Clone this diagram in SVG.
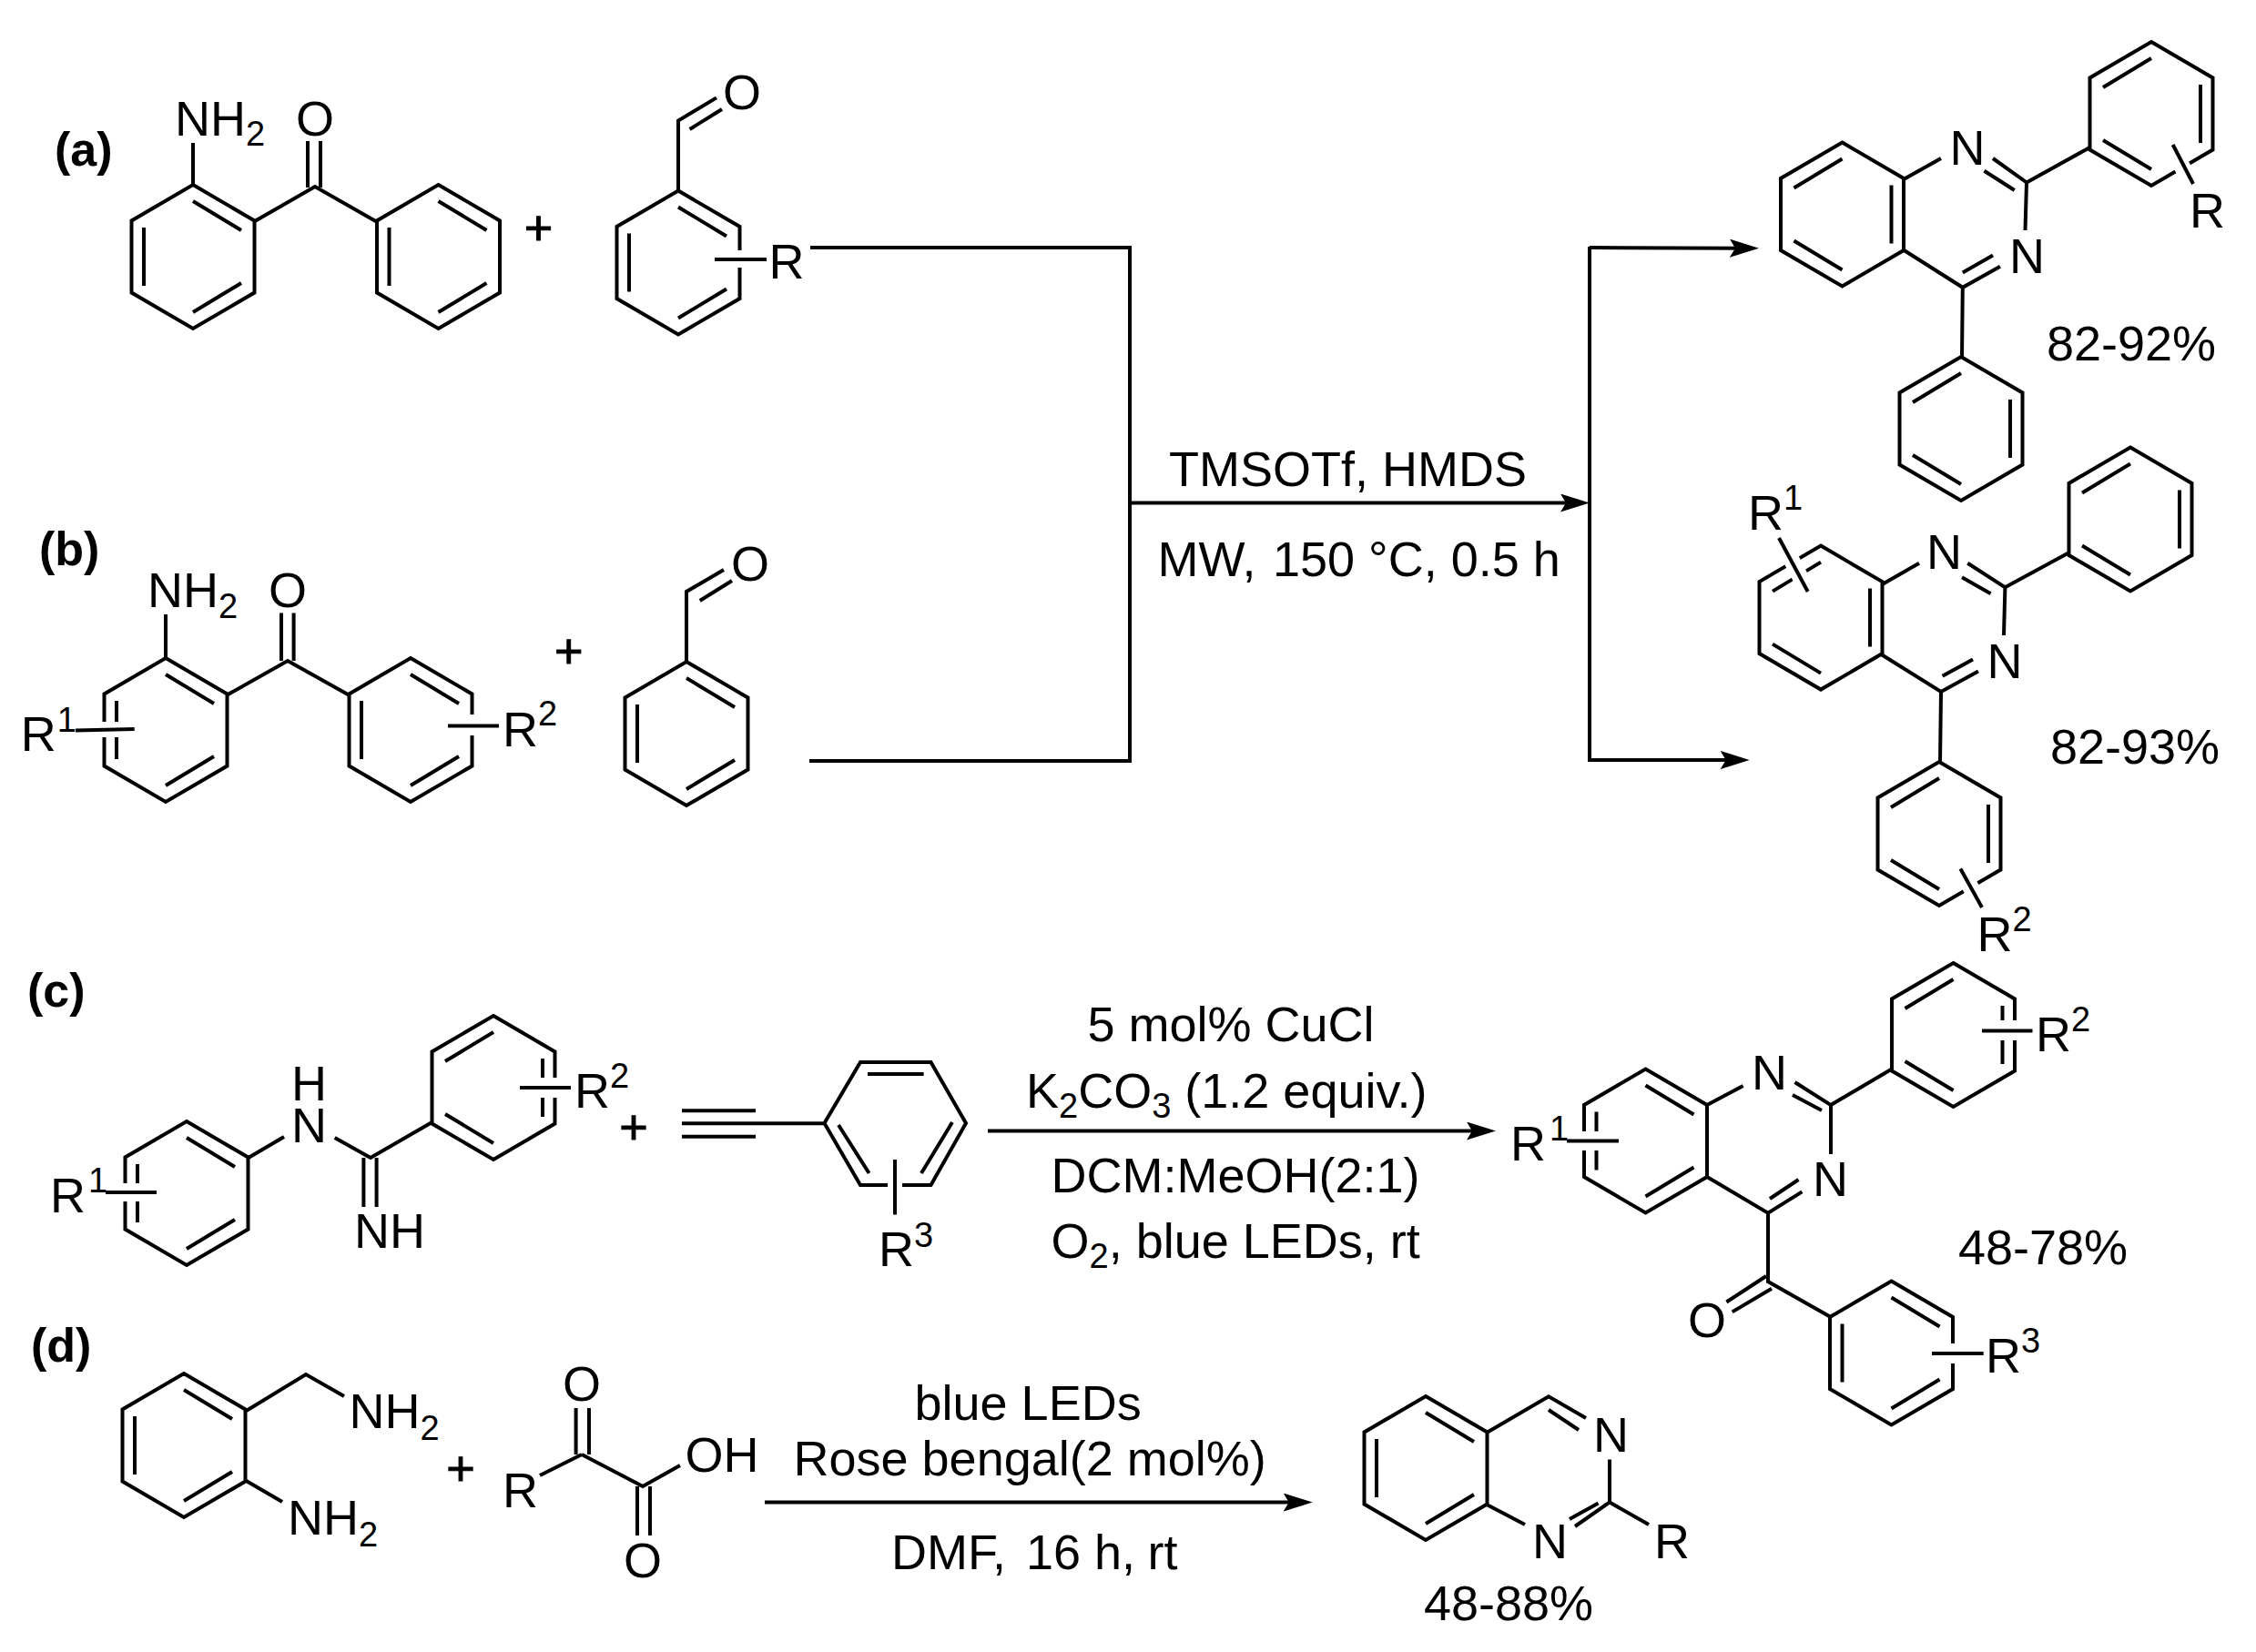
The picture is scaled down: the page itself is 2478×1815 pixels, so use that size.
<svg xmlns="http://www.w3.org/2000/svg" width="2478" height="1815" viewBox="0 0 2478 1815">
<style>
text{font-family:"Liberation Sans",Arial,sans-serif;font-size:54px;fill:#000}
.l{font-size:52px;font-weight:bold}
.p{text-anchor:middle;stroke:#000;stroke-width:1}
.m{text-anchor:middle}
.s{font-size:38px}
.b{fill:none;stroke:#000;stroke-width:4;stroke-linejoin:miter}
.h{fill:none;stroke:#fff;stroke-width:18}
.c{fill:none;stroke:#000;stroke-width:4}
</style>
<defs>
<marker id="ah" markerUnits="userSpaceOnUse" markerWidth="34" markerHeight="20" refX="12" refY="10" orient="auto" viewBox="0 0 34 20"><path d="M0,0 L32,10 L0,20 L6,10 z" fill="#000"/></marker>
<path id="ringA" class="b" d="M0,-79 L67.5,-39.5 V39.5 L0,79 L-67.5,39.5 V-39.5 Z M0,-61 L53,-29 M0,61 L53,29 M-54,-32 V32"/>
<path id="ringB" class="b" d="M0,-79 L67.5,-39.5 V39.5 L0,79 L-67.5,39.5 V-39.5 Z M0,-61 L-53,-29 M0,61 L-53,29 M54,-32 V32"/>
</defs>
<rect width="2478" height="1815" fill="#fff"/>
<g id="connectors">
<path class="c" d="M890,272 H1241 V836 H889"/>
<path class="c" d="M1241,552.5 H1726" marker-end="url(#ah)"/>
<path class="c" d="M1746,271 V835"/>
<path class="c" d="M1746,272 L1912,272.7" marker-end="url(#ah)"/>
<path class="c" d="M1744,835 H1901.7" marker-end="url(#ah)"/>
<path class="c" d="M1085,1242.5 H1623" marker-end="url(#ah)"/>
<path class="c" d="M840,1650.5 H1421.7" marker-end="url(#ah)"/>
</g>
<g id="labels">
<text class="l" x="60" y="182">(a)</text>
<text class="l" x="43" y="621">(b)</text>
<text class="l" x="30" y="1106">(c)</text>
<text class="l" x="34" y="1496">(d)</text>
</g>
<g id="cond-ab">
<text x="1284" y="534">TMSOTf, HMDS</text>
<text y="632.6"><tspan x="1271.6">MW,</tspan> <tspan x="1398">150 °C, 0.5 h</tspan></text>
</g>
<g id="cond-c">
<text x="1194.5" y="1144">5 mol% CuCl</text>
<text x="1127" y="1216.5">K<tspan class="s" dy="11">2</tspan><tspan dy="-11">CO</tspan><tspan class="s" dy="11">3</tspan><tspan dy="-11"> (1.2 equiv.)</tspan></text>
<text x="1154.5" y="1310">DCM:MeOH(2:1)</text>
<text x="1154.5" y="1381.5">O<tspan class="s" dy="11">2</tspan><tspan dy="-11">, blue LEDs, rt</tspan></text>
</g>
<g id="cond-d">
<text x="1004.5" y="1560">blue LEDs</text>
<text x="871.5" y="1621">Rose bengal(2 mol%)</text>
<text y="1724.4"><tspan x="979">DMF,</tspan> <tspan x="1127">16 h,</tspan> <tspan x="1260.5">rt</tspan></text>
</g>
<g id="a-ketone">
<use href="#ringA" x="212" y="282"/>
<use href="#ringA" x="481.5" y="282"/>
<path class="b" d="M212,203 V157 M279,243.5 L346,205 L413.5,243.5 M338,206 V155 M352,206 V155"/>
<text x="192" y="149">NH<tspan class="s" dy="10.5">2</tspan></text>
<text class="m" x="346" y="149">O</text>
</g>
<text id="a-plus" class="p" x="591.5" y="269">+</text>
<g id="a-aldehyde">
<use href="#ringA" x="745" y="288.5"/>
<path class="b" d="M745,210 V132.6 L787,107.4 M757.6,142 L793,120"/>
<text class="m" x="815" y="120">O</text>
<path class="h" d="M812,275 V294"/>
<path class="h" d="M797,275 V294"/>
<path class="b" d="M785,285 H842"/>
<text x="844.6" y="306">R</text>
</g>
<g id="b-ketone">
<use href="#ringA" x="182" y="802"/>
<use href="#ringA" x="451" y="802"/>
<path class="b" d="M182,723 V675 M249,763.8 L316,726 L383.5,763.8 M309,726 V673.6 M322.6,726 V673.6"/>
<text x="162" y="667.4">NH<tspan class="s" dy="12">2</tspan></text>
<text class="m" x="316" y="667.4">O</text>
<path class="h" d="M114.7,793 V810"/>
<path class="h" d="M128,793 V810"/>
<path class="b" d="M83,802.4 L147.7,801"/>
<text x="22.7" y="825">R<tspan class="s" dx="1" dy="-21">1</tspan></text>
<path class="h" d="M518,785 V808"/>
<path class="b" d="M492,797.6 H548"/>
<text x="552" y="819.6">R<tspan class="s" dy="-23">2</tspan></text>
</g>
<text id="b-plus" class="p" x="624.7" y="734">+</text>
<g id="b-aldehyde">
<use href="#ringA" x="754" y="806"/>
<path class="b" d="M754,728 V650 L795,626 M768.7,660 L804,638"/>
<text class="m" x="824" y="638">O</text>
</g>
<g id="product-a">
<use href="#ringB" x="2023.5" y="235.5"/>
<use href="#ringB" x="2363" y="125"/>
<use href="#ringB" x="2154" y="471"/>
<path class="b" d="M2091,197 L2132,174 M2189,174 L2226,200.4 L2224.5,253 M2179.5,187.7 L2212.7,209 M2197,292.7 L2155.8,315.8 L2091,274.8 M2189,280.6 L2155.8,299.6 M2155.8,315.8 L2155,392.6 M2226,200.4 L2295.5,162"/>
<text x="2141.5" y="181">N</text>
<text x="2207" y="299.6">N</text>
<path class="h" d="M2392,174 L2403,195"/>
<path class="b" d="M2386.7,159 L2409,202"/>
<text x="2405" y="249.7">R</text>
<text x="2248" y="396">82-92%</text>
</g>
<g id="product-b">
<use href="#ringB" x="2000" y="678.6"/>
<use href="#ringB" x="2340" y="570.5"/>
<use href="#ringB" x="2130" y="916"/>
<path class="b" d="M2067.5,642 L2108,618.8 M2161.3,618.8 L2202.4,645.3 L2201,698 M2155,634.3 L2186.6,652.2 M2173,737.6 L2132,760 L2066.4,719 M2167,724.5 L2133.6,742.8 M2132,760 L2131,838 M2202.4,645.3 L2272,607.4"/>
<text x="2116" y="625">N</text>
<text x="2182.6" y="744.5">N</text>
<path class="h" d="M1961,602 L1980,639"/>
<path class="b" d="M1954,591 L1985.7,650"/>
<text x="1920" y="582">R<tspan class="s" dy="-22">1</tspan></text>
<path class="h" d="M2158,963 L2172,988"/>
<path class="b" d="M2153.4,954.5 L2177,997"/>
<text x="2171.6" y="1045">R<tspan class="s" dy="-22">2</tspan></text>
<text x="2252" y="839">82-93%</text>
</g>
<g id="c-amidine">
<use href="#ringA" x="205" y="1311"/>
<use href="#ringB" x="542" y="1195"/>
<path class="b" d="M272.8,1272 L312,1249 M367.7,1250 L407,1272 L474.5,1233 M399.4,1272 V1326 M413.6,1272 V1326"/>
<text x="320" y="1255">N</text>
<text x="320" y="1209">H</text>
<text x="389" y="1370.5">NH</text>
<path class="h" d="M136.8,1300 V1320"/>
<path class="h" d="M150,1300 V1320"/>
<path class="b" d="M116,1310 H172"/>
<text x="55" y="1332">R<tspan class="s" dx="3" dy="-22">1</tspan></text>
<path class="h" d="M609,1184 V1206"/>
<path class="h" d="M596,1184 V1206"/>
<path class="b" d="M571,1195 H627"/>
<text x="631" y="1216.5">R<tspan class="s" dy="-21.5">2</tspan></text>
</g>
<text id="c-plus" class="p" x="696" y="1257">+</text>
<g id="c-alkyne">
<path class="b" d="M945,1167 H1022.5 L1061,1234 L1022.5,1302 H945 L905.5,1234 Z M953,1180 H1014.6 M1046,1233 L1012,1289 M921,1236 L954.6,1289 M749,1220.3 H830 M749,1234.3 H905.5 M749,1248.7 H830"/>
<path class="h" d="M975,1302 H991"/>
<path class="b" d="M983,1274 V1334.5"/>
<text x="965" y="1391">R<tspan class="s" dy="-21">3</tspan></text>
</g>
<g id="product-c">
<use href="#ringA" x="1807.5" y="1253.5"/>
<use href="#ringB" x="2145.5" y="1137"/>
<use href="#ringA" x="2077.5" y="1486.5"/>
<path class="b" d="M1875,1214 L1914.6,1193 M1971.5,1189 L2011,1214 V1268 M1969,1203 L2001,1220 M1979.4,1309.4 L1942,1332.6 L1875,1293 M1975.5,1296 L1944,1317 M1942,1332.6 V1408 L2009.5,1446.3 M1940,1402 L1896.4,1430.5 M1946,1415.7 L1902.7,1441.4 M2011,1214 L2078,1174.5"/>
<text x="1924" y="1197">N</text>
<text x="1991" y="1314">N</text>
<text class="m" x="1875" y="1469">O</text>
<path class="h" d="M1739.8,1243 V1264"/>
<path class="h" d="M1753,1243 V1264"/>
<path class="b" d="M1721,1253.5 H1778"/>
<text x="1659" y="1274.8">R<tspan class="s" dx="4" dy="-22">1</tspan></text>
<path class="h" d="M2212.7,1121 V1143"/>
<path class="h" d="M2199,1121 V1143"/>
<path class="b" d="M2177,1132.4 H2232.5"/>
<text x="2236" y="1154.7">R<tspan class="s" dy="-22">2</tspan></text>
<path class="h" d="M2145,1476 V1498"/>
<path class="b" d="M2122,1487 H2178.7"/>
<text x="2181" y="1508">R<tspan class="s" dy="-22">3</tspan></text>
<text x="2151" y="1388.5">48-78%</text>
</g>
<g id="d-diamine">
<use href="#ringA" x="202" y="1588"/>
<path class="b" d="M270.5,1550 L336,1510 L378,1534 M270.5,1627 L310,1650"/>
<text x="383.5" y="1569.4">NH<tspan class="s" dy="13">2</tspan></text>
<text x="316" y="1686">NH<tspan class="s" dy="13">2</tspan></text>
</g>
<text id="d-plus" class="p" x="506" y="1632">+</text>
<g id="d-ketoacid">
<path class="b" d="M593,1621 L639,1598 M639,1598 L706,1633 L747,1610 M632.6,1598 V1547 M647,1598 V1547 M700,1633 V1687 M714,1633 V1687"/>
<text x="552" y="1656">R</text>
<text class="m" x="639" y="1539">O</text>
<text x="752.5" y="1617">OH</text>
<text class="m" x="706" y="1732.6">O</text>
</g>
<g id="product-d">
<use href="#ringA" x="1566" y="1613"/>
<path class="b" d="M1633,1574 L1701,1534.3 L1742,1558 M1701,1549 L1734,1571 M1768,1603.5 V1650.5 L1730,1677 M1755.6,1651.5 L1724,1669 M1633,1653 L1675,1675 M1768,1650.5 L1811,1675"/>
<text x="1750" y="1594.6">N</text>
<text x="1683" y="1712">N</text>
<text x="1817" y="1712">R</text>
<text x="1564" y="1780">48-88%</text>
</g>
</svg>
